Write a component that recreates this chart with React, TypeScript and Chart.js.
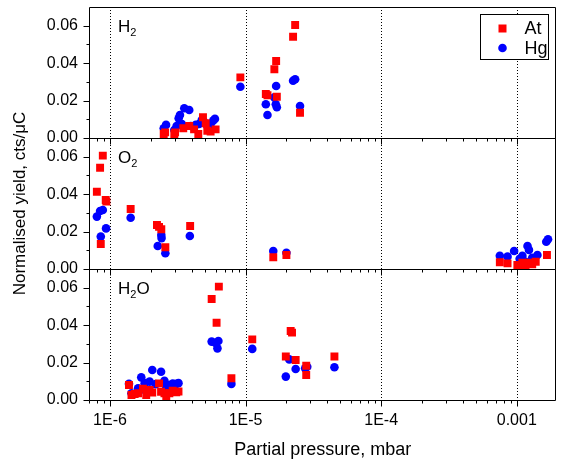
import { useEffect, useRef } from "react";
import { Chart, registerables } from "chart.js";

Chart.register(...registerables);

// ---- Data (partial pressure in mbar, normalised yield in cts/uC) ----
const h2AtP = [2.49e-6, 2.55e-6, 2.98e-6, 3.02e-6, 3.47e-6, 3.84e-6, 4.17e-6, 4.48e-6, 4.85e-6, 5.08e-6, 5.22e-6, 5.52e-6, 6.01e-6, 9.15e-6, 1.41e-5, 1.45e-5, 1.63e-5, 1.68e-5, 1.70e-5, 2.24e-5, 2.32e-5, 2.52e-5];
const h2AtY = [0.0021, 0.0030, 0.0021, 0.0030, 0.0052, 0.0064, 0.0046, 0.0021, 0.0111, 0.0079, 0.0039, 0.0034, 0.0046, 0.0324, 0.0235, 0.0228, 0.0367, 0.0411, 0.0220, 0.0541, 0.0604, 0.0135];
const h2HgP = [2.49e-6, 2.59e-6, 2.98e-6, 3.10e-6, 3.21e-6, 3.28e-6, 3.39e-6, 3.53e-6, 3.84e-6, 3.95e-6, 4.29e-6, 4.54e-6, 4.75e-6, 4.94e-6, 5.22e-6, 5.52e-6, 5.77e-6, 5.94e-6, 9.15e-6, 1.41e-5, 1.45e-5, 1.63e-5, 1.67e-5, 1.70e-5, 1.68e-5, 2.24e-5, 2.32e-5, 2.52e-5];
const h2HgY = [0.0052, 0.0070, 0.0043, 0.0064, 0.0105, 0.0123, 0.0075, 0.0159, 0.0150, 0.0064, 0.0070, 0.0075, 0.0096, 0.0087, 0.0064, 0.0075, 0.0093, 0.0102, 0.0274, 0.0180, 0.0123, 0.0217, 0.0180, 0.0164, 0.0278, 0.0306, 0.0314, 0.0171];

const o2AtP = [8.0e-7, 8.45e-7, 8.85e-7, 9.3e-7, 9.4e-7, 8.55e-7, 1.42e-6, 2.22e-6, 2.3e-6, 2.39e-6, 2.56e-6, 3.9e-6, 1.6e-5, 2.0e-5, 7.5e-4, 8.55e-4, 1.01e-3, 1.05e-3, 1.1e-3, 1.16e-3, 1.23e-3, 1.3e-3, 1.38e-3, 1.67e-3];
const o2AtY = [0.0413, 0.0541, 0.0606, 0.0369, 0.0360, 0.0134, 0.0321, 0.0235, 0.0225, 0.0212, 0.0116, 0.0230, 0.0063, 0.0075, 0.0036, 0.0030, 0.0021, 0.0016, 0.0034, 0.0012, 0.0034, 0.0025, 0.0039, 0.0075];
const o2HgP = [8.0e-7, 8.45e-7, 8.85e-7, 9.35e-7, 8.55e-7, 1.42e-6, 2.25e-6, 2.39e-6, 2.40e-6, 2.56e-6, 3.88e-6, 1.6e-5, 2.0e-5, 7.5e-4, 8.55e-4, 9.56e-4, 1.05e-3, 1.1e-3, 1.16e-3, 1.2e-3, 1.23e-3, 1.3e-3, 1.42e-3, 1.65e-3, 1.70e-3];
const o2HgY = [0.0280, 0.0310, 0.0315, 0.0217, 0.0173, 0.0274, 0.0123, 0.0182, 0.0165, 0.0084, 0.0176, 0.0096, 0.0087, 0.0071, 0.0066, 0.0096, 0.0055, 0.0070, 0.0039, 0.0123, 0.0102, 0.0060, 0.0075, 0.0146, 0.0159];

const h2oAtP = [1.38e-6, 1.44e-6, 1.52e-6, 1.61e-6, 1.75e-6, 1.85e-6, 1.96e-6, 2.05e-6, 2.3e-6, 2.38e-6, 2.52e-6, 2.6e-6, 2.74e-6, 2.9e-6, 3.08e-6, 3.2e-6, 5.62e-6, 6.35e-6, 6.11e-6, 7.86e-6, 1.12e-5, 1.98e-5, 2.15e-5, 2.2e-5, 2.34e-5, 2.8e-5, 2.8e-5, 4.52e-5];
const h2oAtY = [0.0080, 0.0027, 0.0032, 0.0036, 0.0060, 0.0027, 0.0053, 0.0040, 0.0089, 0.0044, 0.0036, 0.0020, 0.0036, 0.0050, 0.0041, 0.0045, 0.0540, 0.0606, 0.0413, 0.0116, 0.0324, 0.0232, 0.0369, 0.0360, 0.0214, 0.0134, 0.0183, 0.0232];
const h2oHgP = [1.38e-6, 1.44e-6, 1.61e-6, 1.65e-6, 1.70e-6, 1.80e-6, 1.96e-6, 2.05e-6, 2.17e-6, 2.38e-6, 2.52e-6, 2.6e-6, 2.74e-6, 2.9e-6, 3.08e-6, 3.2e-6, 5.62e-6, 6.2e-6, 6.3e-6, 6.0e-6, 7.86e-6, 1.12e-5, 1.98e-5, 2.1e-5, 2.34e-5, 2.75e-5, 2.85e-5, 4.52e-5];
const h2oHgY = [0.0087, 0.0036, 0.0063, 0.0050, 0.0121, 0.0090, 0.0098, 0.0160, 0.0085, 0.0151, 0.0103, 0.0070, 0.0080, 0.0088, 0.0086, 0.0090, 0.0312, 0.0276, 0.0315, 0.0305, 0.0086, 0.0273, 0.0125, 0.0217, 0.0166, 0.0169, 0.0178, 0.0175];

const xMin = 7.0e-7;
const xMax = 1.96e-3;
const xMajorValues = [1e-6, 1e-5, 1e-4, 1e-3];
const xMajorLabels = ["1E-6", "1E-5", "1E-4", "0.001"];
const yMin = 0;
const yMax = 0.07;
const yMajorStep = 0.02;
const yMinorStep = 0.01;

const panelIds = ["y1", "y2", "y3"];
const panelMain = ["H", "O", "H"];
const panelSub = ["2", "2", "2"];
const panelTail = ["", "", "O"];

const seriesNames = ["At", "Hg"];
const seriesColors = ["#ff0000", "#0000ff"];

const FONT = "'Liberation Sans', Arial, sans-serif";

function zip(p: number[], y: number[]) {
  return p.map((v, i) => ({ x: v, y: y[i] }));
}

const panelsPlugin = {
  id: "panelsPlugin",
  beforeDatasetsDraw(chart: any) {
    const ctx = chart.ctx;
    const ca = chart.chartArea;
    const xs = chart.scales.x;
    ctx.save();
    ctx.strokeStyle = "#000";
    ctx.lineWidth = 1;
    ctx.setLineDash([1, 2]);
    for (const v of xMajorValues) {
      const px = Math.round(xs.getPixelForValue(v)) + 0.5;
      ctx.beginPath();
      ctx.moveTo(px, ca.top);
      ctx.lineTo(px, ca.bottom);
      ctx.stroke();
    }
    ctx.restore();
  },
  afterDraw(chart: any) {
    const ctx = chart.ctx;
    const ca = chart.chartArea;
    const xs = chart.scales.x;
    ctx.save();
    ctx.strokeStyle = "#000";
    ctx.fillStyle = "#000";
    ctx.lineWidth = 1;
    ctx.setLineDash([]);
    const left = Math.round(ca.left) + 0.5;
    const right = Math.round(ca.right) - 0.5;
    const xTicks: { v: number; major: boolean }[] = [];
    for (let e = -7; e <= -2; e++) {
      for (let m = 1; m <= 9; m++) {
        const v = m * Math.pow(10, e);
        if (v >= xMin && v <= xMax) xTicks.push({ v, major: m === 1 });
      }
    }
    panelIds.forEach((id, idx) => {
      const s = chart.scales[id];
      const top = Math.round(s.top) + 0.5;
      const bottom = Math.round(s.bottom) + 0.5;
      ctx.beginPath();
      ctx.rect(left, top, right - left, bottom - top);
      ctx.stroke();
      ctx.beginPath();
      for (const t of xTicks) {
        const px = Math.round(xs.getPixelForValue(t.v)) + 0.5;
        ctx.moveTo(px, bottom);
        ctx.lineTo(px, bottom + (t.major ? 6 : 3));
      }
      for (let k = 0; yMin + k * yMinorStep <= yMax - 1e-9; k++) {
        const v = yMin + k * yMinorStep;
        const py = Math.round(s.getPixelForValue(v)) + 0.5;
        const major = Math.abs(v / yMajorStep - Math.round(v / yMajorStep)) < 1e-6;
        ctx.moveTo(left, py);
        ctx.lineTo(left - (major ? 6 : 3), py);
      }
      ctx.stroke();
      const lx = ca.left + 29;
      const ly = s.top + 25;
      ctx.textBaseline = "alphabetic";
      ctx.textAlign = "left";
      ctx.font = `17px ${FONT}`;
      ctx.fillText(panelMain[idx], lx, ly);
      let w = ctx.measureText(panelMain[idx]).width;
      ctx.font = `11px ${FONT}`;
      ctx.fillText(panelSub[idx], lx + w, ly + 4);
      w += ctx.measureText(panelSub[idx]).width;
      if (panelTail[idx]) {
        ctx.font = `17px ${FONT}`;
        ctx.fillText(panelTail[idx], lx + w, ly);
      }
    });
    const bw = 68;
    const bh = 45;
    const bx = Math.round(ca.right) - 8 - bw + 0.5;
    const by = Math.round(ca.top) + 7 + 0.5;
    ctx.strokeStyle = "#000";
    ctx.fillStyle = "#fff";
    ctx.fillRect(bx, by, bw, bh);
    ctx.strokeRect(bx, by, bw, bh);
    seriesNames.forEach((name, i) => {
      const cy = by + 14 + i * 19.5;
      const cx = bx + 22;
      ctx.fillStyle = seriesColors[i];
      if (i === 0) {
        ctx.fillRect(cx - 4, cy - 4, 8, 8);
      } else {
        ctx.beginPath();
        ctx.arc(cx, cy, 4.3, 0, Math.PI * 2);
        ctx.fill();
      }
      ctx.fillStyle = "#000";
      ctx.font = `18px ${FONT}`;
      ctx.textAlign = "left";
      ctx.textBaseline = "middle";
      ctx.fillText(name, bx + 44, cy + 1);
    });
    ctx.restore();
  },
};

export default function App() {
  const ref = useRef<HTMLCanvasElement | null>(null);
  useEffect(() => {
    document.body.style.margin = "0";
    const canvas = ref.current;
    if (!canvas) return;
    const atData = [zip(h2AtP, h2AtY), zip(o2AtP, o2AtY), zip(h2oAtP, h2oAtY)];
    const hgData = [zip(h2HgP, h2HgY), zip(o2HgP, o2HgY), zip(h2oHgP, h2oHgY)];
    const datasets: any[] = [];
    panelIds.forEach((id, i) => {
      datasets.push({
        label: seriesNames[0],
        data: atData[i],
        yAxisID: id,
        pointStyle: "rect",
        pointRadius: 5.6,
        pointHoverRadius: 5.6,
        backgroundColor: seriesColors[0],
        borderColor: seriesColors[0],
        borderWidth: 0,
      });
    });
    panelIds.forEach((id, i) => {
      datasets.push({
        label: seriesNames[1],
        data: hgData[i],
        yAxisID: id,
        pointStyle: "circle",
        pointRadius: 4.3,
        pointHoverRadius: 4.3,
        backgroundColor: seriesColors[1],
        borderColor: seriesColors[1],
        borderWidth: 0,
      });
    });

    const yScale = (withTitle: boolean) => ({
      type: "linear",
      position: "left",
      stack: "panels",
      stackWeight: 1,
      min: yMin,
      max: yMax,
      grid: { display: false, drawTicks: false },
      border: { display: false },
      ticks: {
        stepSize: yMajorStep,
        includeBounds: false,
        padding: 11,
        color: "#000",
        font: { family: FONT, size: 16 },
        callback: (v: number) => Number(v).toFixed(2),
      },
      title: {
        display: withTitle,
        text: "Normalised yield, cts/\u03bcC",
        color: "#000",
        font: { family: FONT, size: 17 },
        padding: { top: 10, bottom: 0 },
      },
      afterFit: (s: any) => {
        s.width = 89;
        s.paddingTop = 0;
        s.paddingBottom = 0;
      },
    });

    const chart = new Chart(canvas, {
      type: "scatter",
      data: { datasets },
      plugins: [panelsPlugin],
      options: {
        responsive: false,
        animation: false,
        devicePixelRatio: 1,
        layout: { padding: { top: 7, right: 1, left: 0, bottom: 0 } },
        plugins: { legend: { display: false }, tooltip: { enabled: false } },
        scales: {
          x: {
            type: "logarithmic",
            position: "bottom",
            min: xMin,
            max: xMax,
            grid: { display: false, drawTicks: false },
            border: { display: false },
            ticks: {
              autoSkip: false,
              maxRotation: 0,
              padding: 11,
              color: "#000",
              font: { family: FONT, size: 16 },
              callback: (v: number) => {
                const i = xMajorValues.findIndex((m) => Math.abs(Math.log10(v) - Math.log10(m)) < 1e-6);
                return i >= 0 ? xMajorLabels[i] : "";
              },
            },
            title: {
              display: true,
              text: "Partial pressure, mbar",
              color: "#000",
              font: { family: FONT, size: 18 },
              padding: { top: 0, bottom: 0 },
            },
            afterFit: (s: any) => {
              s.height = 61;
              s.paddingLeft = 0;
              s.paddingRight = 0;
            },
          },
          y3: yScale(false),
          y2: yScale(true),
          y1: yScale(false),
        } as any,
      },
    } as any);
    return () => chart.destroy();
  }, []);
  return (
    <div style={{ width: 562, height: 461 }}>
      <canvas ref={ref} width={562} height={461} />
    </div>
  );
}
